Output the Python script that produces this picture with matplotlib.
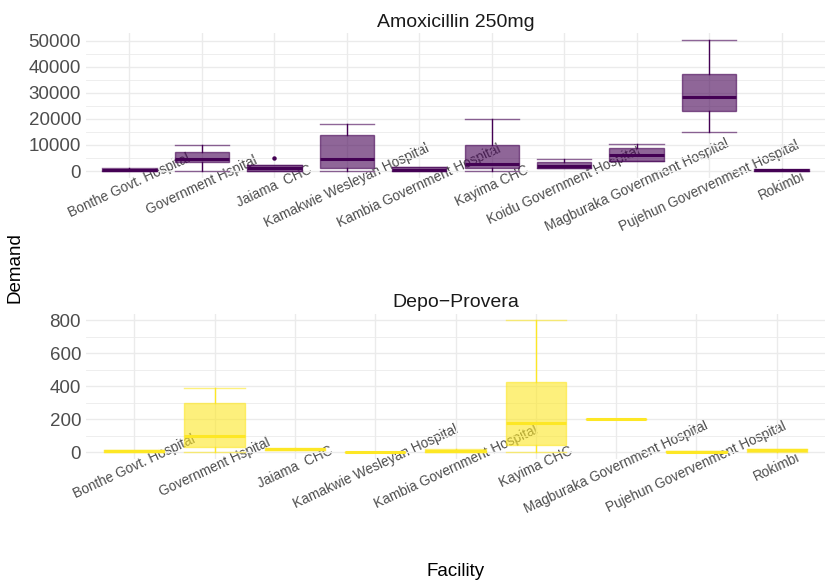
import numpy as np
import matplotlib
matplotlib.use("Agg")
import matplotlib.pyplot as plt
from matplotlib.colors import to_rgba

plt.rcParams['font.family'] = ['Liberation Sans', 'DejaVu Sans']

# data (box stats per facility)
amox_fac = ["Bonthe Govt. Hospital", "Government Hspital", "Jaiama  CHC",
            "Kamakwie Wesleyan Hospital", "Kambia Government Hospital",
            "Kayima CHC", "Koidu Government Hospital",
            "Magburaka Government Hospital", "Pujehun Govervenment Hospital",
            "Rokimbi"]
amox_lo  = [0,    0,     0,    100,   0,    0,     1100, 3800,  14900, 0]
amox_q1  = [50,   3400,  200,  1100,  0,    1300,  1150, 3800,  23000, 50]
amox_med = [400,  4600,  1000, 4600,  500,  2700,  1800, 6300,  28500, 300]
amox_q3  = [900,  7200,  2200, 13900, 1600, 10000, 3400, 9000,  37300, 500]
amox_hi  = [1000, 10000, 2200, 17900, 1700, 19900, 4700, 10400, 50300, 600]
amox_out = [[], [], [5100], [], [], [], [], [], [], []]

depo_fac = ["Bonthe Govt. Hospital", "Government Hspital", "Jaiama  CHC",
            "Kamakwie Wesleyan Hospital", "Kambia Government Hospital",
            "Kayima CHC", "Magburaka Government Hospital",
            "Pujehun Govervenment Hospital", "Rokimbi"]
depo_lo  = [0,  0,   16, 0, 0,  0,   200, 0, 4]
depo_q1  = [0,  34,  17, 0, 0,  42,  200, 0, 6]
depo_med = [6,  101, 20, 0, 8,  178, 200, 4, 12]
depo_q3  = [12, 301, 22, 0, 16, 426, 200, 8, 18]
depo_hi  = [12, 388, 24, 0, 18, 800, 200, 8, 20]
depo_out = [[] for _ in depo_fac]

W, H = 830, 588
fig = plt.figure(figsize=(W / 100, H / 100), dpi=100)


def px_axes(l, t, r, b):
    return fig.add_axes([l / W, 1 - b / H, (r - l) / W, (b - t) / H])


def panel(ax, facs, lo, q1, med, q3, hi, outs, col, title, title_y, step):
    stats = []
    for i in range(len(facs)):
        stats.append(dict(whislo=lo[i], q1=q1[i], med=med[i], q3=q3[i],
                          whishi=hi[i], fliers=outs[i]))
    pos = np.arange(1, len(facs) + 1)
    ax.bxp(stats, positions=pos, widths=0.75, patch_artist=True,
           showfliers=True, capwidths=0.75,
           boxprops=dict(facecolor=to_rgba(col, 0.6), edgecolor=to_rgba(col, 0.6), lw=1),
           whiskerprops=dict(color=col, lw=1),
           capprops=dict(color=to_rgba(col, 0.6), lw=1),
           medianprops=dict(color=col, lw=2.2),
           flierprops=dict(marker='o', markersize=2.2, markerfacecolor=col,
                           markeredgecolor=col))
    ax.set_xlim(0.4, len(facs) + 0.6)
    ax.margins(y=0.05)
    ax.autoscale(axis='y')
    top = max(hi)
    ax.set_yticks(np.arange(0, top + 1, step))
    ax.set_yticks(np.arange(step / 2, top + 1, step), minor=True)
    ax.set_xticks(pos)
    ax.set_xticklabels(facs, rotation=25, ha='center', va='center',
                       rotation_mode='anchor', fontsize=9.8, color='#4D4D4D')
    ax.tick_params(axis='x', length=0, pad=5.8)
    ax.tick_params(axis='y', which='both', length=0, pad=3.6, labelsize=13.5,
                   labelcolor='#4D4D4D')
    ax.grid(True, which='major', color='#EBEBEB', lw=1)
    ax.grid(True, which='minor', axis='y', color='#EBEBEB', lw=0.6)
    ax.set_axisbelow(True)
    for s in ax.spines.values():
        s.set_visible(False)
    fig.text(455.5 / W, 1 - title_y / H, title, ha='center', va='baseline',
             fontsize=14, color='#1A1A1A')


ax1 = px_axes(86, 33.4, 825, 177.6)
panel(ax1, amox_fac, amox_lo, amox_q1, amox_med, amox_q3, amox_hi, amox_out,
      '#440154', 'Amoxicillin 250mg', 26.6, 10000)

ax2 = px_axes(86, 313.7, 825, 459)
panel(ax2, depo_fac, depo_lo, depo_q1, depo_med, depo_q3, depo_hi, depo_out,
      '#FDE725', 'Depo\u2212Provera', 307, 200)

fig.text(15 / W, 1 - 268 / H, 'Demand', rotation=90, ha='center', va='center',
         fontsize=13.5)
fig.text(455.6 / W, 1 - 572 / H, 'Facility', ha='center', va='center',
         fontsize=13.5)

fig.savefig('out.png', dpi=100, facecolor='white')
